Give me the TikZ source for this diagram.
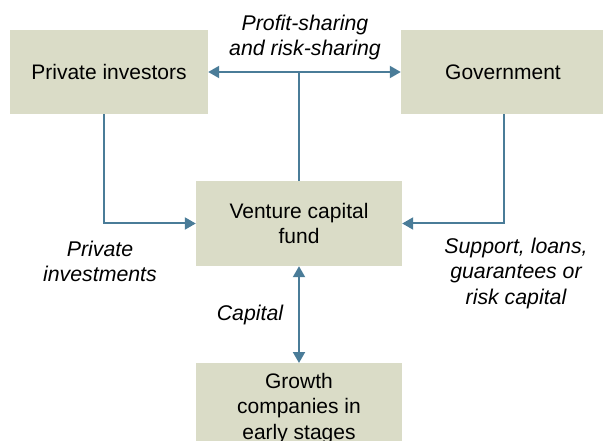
\documentclass[tikz,border=0pt]{standalone}
\usepackage{fontspec}
\setmainfont{Liberation Sans}
\usetikzlibrary{arrows.meta}
\definecolor{boxfill}{RGB}{218,220,199}
\definecolor{linecol}{RGB}{74,124,152}
\tikzset{
  box/.style={fill=boxfill, draw=none, align=center, inner sep=0pt,
    font=\fontsize{21}{25.5}\selectfont, text=black},
  lbl/.style={align=center, inner sep=0pt,
    font=\fontsize{21.3}{25.5}\selectfont\itshape, text=black},
  conn/.style={draw=linecol, line width=2pt},
  arr/.style={conn, -{Triangle[length=11pt,width=12pt]}},
  dbl/.style={conn, {Triangle[length=11pt,width=12pt]}-{Triangle[length=11pt,width=12pt]}}
}
\begin{document}
\begin{tikzpicture}[x=1pt,y=-1pt]
\useasboundingbox (0,0) rectangle (603,441);
\node[box, minimum width=198pt, minimum height=84pt] (pi) at (109,72) {Private investors};
\node[box, minimum width=204pt, minimum height=84pt] (gov) at (503,72) {Government};
\node[box, minimum width=206pt, minimum height=85pt] (vc) at (299,223.5) {Venture capital\\fund};
\node[box, minimum width=206pt, minimum height=90pt, anchor=north] (gr) at (299,363) {Growth\\companies in\\early stages};
\node[lbl] (ps) at (305,37.5) {Profit-sharing\\and risk-sharing};
\node[lbl] (pinv) at (100,261.5) {Private\\investments};
\node[lbl] (sup) at (516,273) {Support, loans,\\guarantees or\\risk capital};
\node[lbl] (cap) at (250,315) {Capital};
\draw[dbl] (pi.east) -- (gov.west);
\draw[conn] (vc.north) -- (vc.north |- pi.east);
\draw[arr] ([xshift=-5pt]pi.south) |- (vc.west);
\draw[arr] ([xshift=1pt]gov.south) |- (vc.east);
\draw[dbl] (vc.south) -- (gr.north);
\end{tikzpicture}
\end{document}
